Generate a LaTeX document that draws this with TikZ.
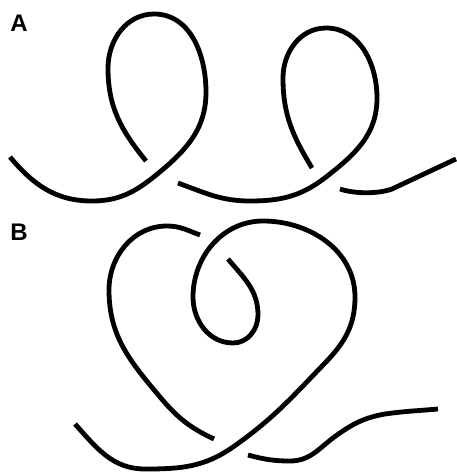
\documentclass[tikz,border=0pt]{standalone}
\usepackage{fontspec}
\setmainfont{Liberation Sans}
\begin{document}
\begin{tikzpicture}[x=1pt,y=1pt,
  strand/.style={line width=4.8pt, line cap=butt, black},
  panellabel/.style={font=\bfseries\fontsize{24}{24}\selectfont, inner sep=0pt}]
\useasboundingbox (0,0) rectangle (456,-472);
\node[panellabel] (labA) at (19,-23) {A};
\node[panellabel] (labB) at (19,-232) {B};
% Panel A
\draw[strand] (10,-157) to[out=-50,in=180] (92,-201) to[out=0,in=220] (161,-171)
  to[out=40,in=-90] (206,-92) to[out=90,in=0] (154,-14) to[out=180,in=90] (108,-68)
  to[out=-90,in=129] (146,-161);
\draw[strand] (178,-183) to[out=-20,in=180] (250,-201) to[out=0,in=218] (326,-177)
  to[out=38,in=-90] (377,-98) to[out=90,in=0] (326,-28) to[out=180,in=90] (283,-78)
  to[out=-90,in=121] (312,-168);
\draw[strand] (340,-189) .. controls (355,-194) and (378,-194) .. (392,-189) -- (456,-159);
% Panel B
\draw[strand] (75,-424) to[out=-48,in=180] (145,-469) to[out=0,in=215] (233,-447)
  to[out=35,in=226] (325,-363) to[out=46,in=-90] (355,-297) to[out=90,in=0] (263,-221)
  to[out=180,in=90] (193,-297) to[out=-90,in=180] (233,-343) to[out=0,in=-90] (258,-315)
  to[out=90,in=-50] (228,-259);
\draw[strand] (200,-235) to[out=160,in=0] (167,-226) to[out=180,in=90] (109,-290)
  to[out=-90,in=130] (160,-397) to[out=-50,in=155] (214,-439);
\draw[strand] (248,-455) to[out=-15,in=180] (290,-461) to[out=0,in=215] (337,-435)
  to[out=35,in=190] (385,-414) to[out=8,in=185] (438,-409);
\end{tikzpicture}
\end{document}
